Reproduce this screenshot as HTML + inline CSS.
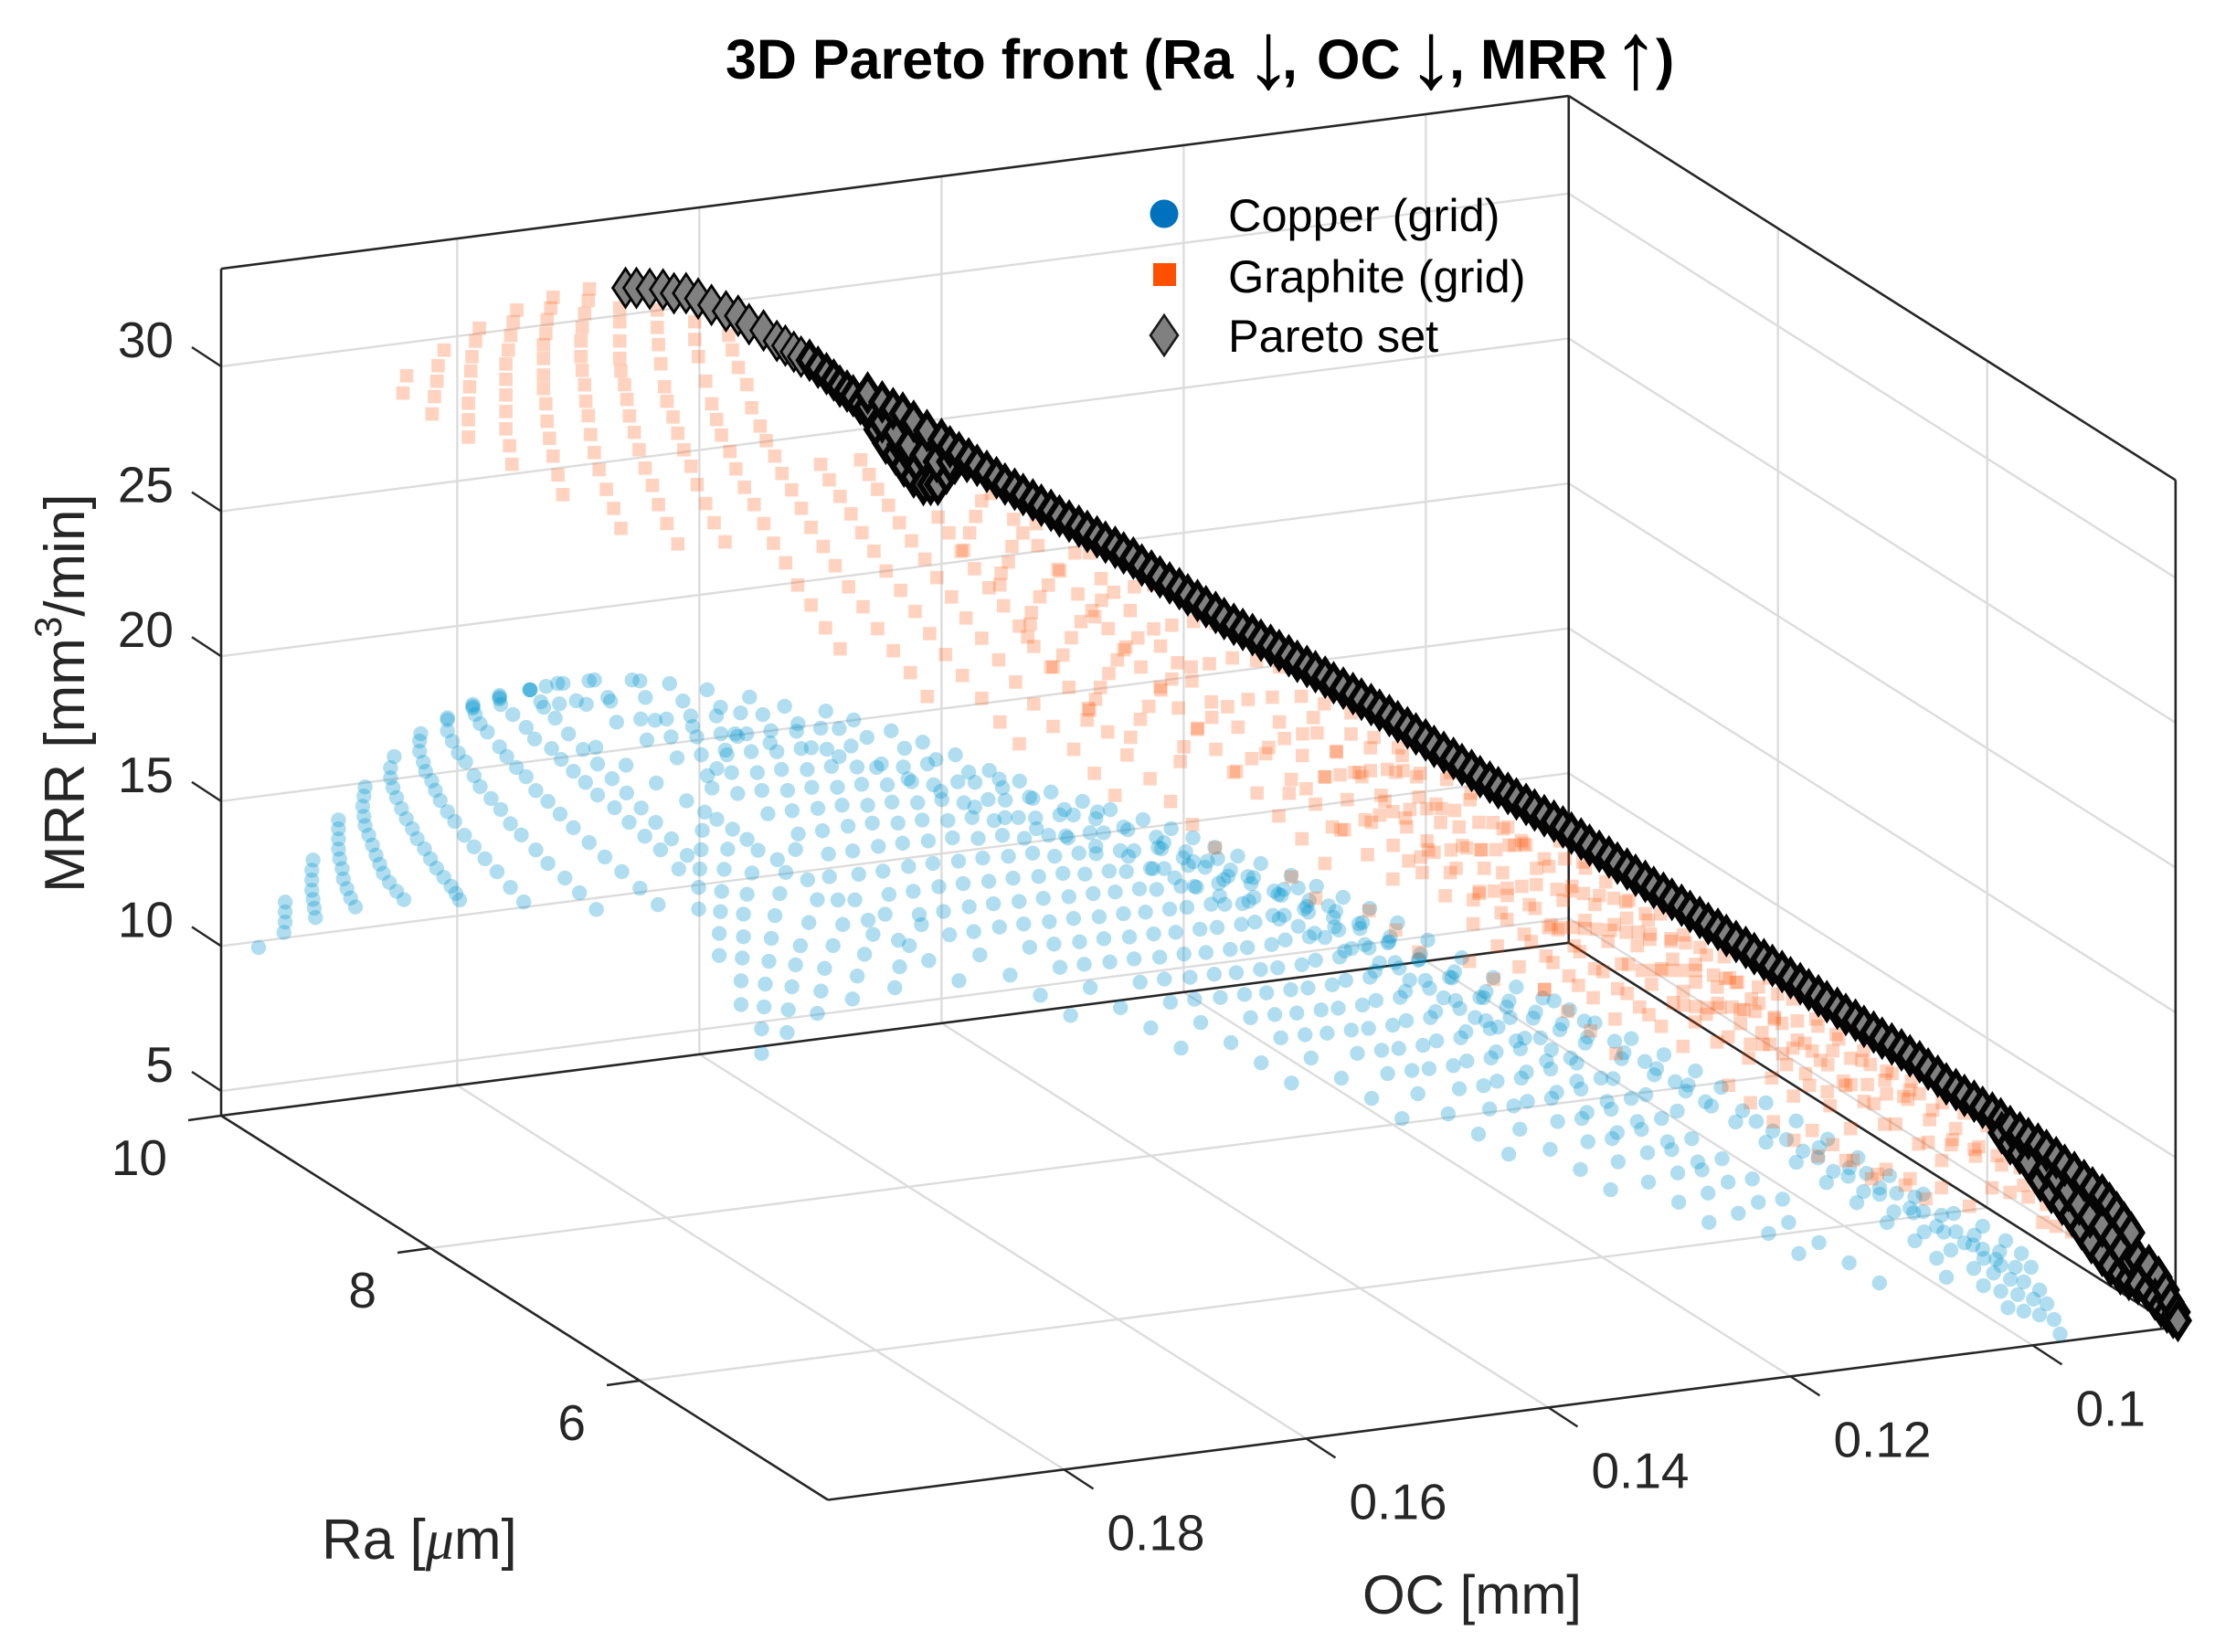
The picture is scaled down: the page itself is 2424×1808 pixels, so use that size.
<!DOCTYPE html>
<html lang="en">
<head>
<meta charset="utf-8">
<title>3D Pareto front</title>
<style>
html,body{margin:0;padding:0;background:#fff}
svg{display:block}
text{font-family:"Liberation Sans",sans-serif}
</style>
</head>
<body>
<!-- Point values are visual estimates read from one 2D projection. Depth (Ra) cannot be read from a single view, so Ra is estimated per group of points. -->
<svg id="chart" xmlns="http://www.w3.org/2000/svg" width="2424" height="1808" viewBox="0 0 2424 1808">
<rect width="2424" height="1808" fill="#fff"/>
<g id="grid"></g>
<g id="axes"></g>
<g id="copper"></g>
<g id="graphite"></g>
<g id="pareto"></g>
<g id="ticklabels" font-size="55" fill="#262626"></g>
<text x="794" y="86" font-size="61" font-weight="700" fill="#000">3D Pareto front (Ra <tspan x="1388" dy="10" font-size="104" font-weight="400" text-anchor="middle">↓</tspan><tspan x="1403" dy="-10">,</tspan> <tspan x="1441">OC</tspan> <tspan x="1566" dy="10" font-size="104" font-weight="400" text-anchor="middle">↓</tspan><tspan x="1586" dy="-10">,</tspan> <tspan x="1620">MRR</tspan> <tspan x="1790" dy="10" font-size="104" font-weight="400" text-anchor="middle">↑</tspan><tspan x="1812" dy="-10">)</tspan></text>
<text x="1491" y="1766" font-size="60" fill="#262626">OC [mm]</text>
<text x="352" y="1706" font-size="62" fill="#262626">Ra [<tspan font-family="'Liberation Serif',serif" font-style="italic">μ</tspan>m]</text>
<text transform="translate(92 977) rotate(-90)" font-size="62" fill="#262626">MRR [mm<tspan font-size="42" dy="-25">3</tspan><tspan dy="25">/min]</tspan></text>
<g>
<circle cx="1274" cy="234" r="15.5" fill="#0072BD"/>
<rect x="1262" y="288" width="25" height="25" fill="#FF5000"/>
<polygon points="1274,345 1289,367 1274,389 1259,367" fill="#808080" stroke="#1a1a1a" stroke-width="2.6"/>
<text x="1344" y="253" font-size="50.5" fill="#000">Copper (grid)</text>
<text x="1344" y="320" font-size="50.5" fill="#000">Graphite (grid)</text>
<text x="1344" y="385" font-size="50.5" fill="#000">Pareto set</text>
</g>
</svg>
<script>
const ocTicks=[0.1,0.12,0.14,0.16,0.18];
const ocTickLabels=["0.1","0.12","0.14","0.16","0.18"];
const raTicks=[10,8,6];
const raTickLabels=["10","8","6"];
const mrrTicks=[5,10,15,20,25,30];
const mrrTickLabels=["5","10","15","20","25","30"];

const copperRa=[9.7,9.7,9.7,9.7,9.7,9.7,9.7,9.7,9.7,9.7,9.7,9.7,
9,8.5,8,7.5,7,6.5,6,5.5,5,4.6,4.4,4.3,4.25,4.25,4.25,4.25,6,9,9,6,
8.5,8,7.5,7,6.5,6,5.5,5,4.6,
9,9,9,9,9,9,9,9,
6,6,4.25,9];
const copperOC=[
[.1990],
[.1968,.1968,.1968,.1969],
[.1945,.1946,.1946,.1946,.1945,.1944,.1943],
[.1924,.1924,.1924,.1924,.1923,.1921,.192,.1917,.1914,.191],
[.1902,.1903,.1904,.1903,.1902,.1899,.1896,.1893,.189,.1887,.1882,.1876,.187],
[.1878,.1881,.1881,.1879,.1876,.1872,.1868,.1863,.1859,.1853,.1848,.1843,.1837,.1831,.1827,.1824],
[.1856,.1857,.1857,.1854,.1852,.1847,.1844,.184,.1834,.1828,.182,.1812,.1803,.1793,.1782,.1771],
[.1834,.1834,.183,.1825,.1819,.1812,.1807,.1798,.179,.1782,.1773,.1761,.1751,.1737,.1725,.1711],
[.1813,.1811,.1807,.1801,.1791,.1785,.1777,.1769,.1761,.1751,.1741,.173,.1717,.1704,.169,.1675,.166],
[.1791,.179,.178,.1769,.1762,.1748,.174,.173,.172,.171,.1696,.1684,.1671,.1658,.1643],
[.1766,.1757,.1745,.1734,.1722,.171,.1698,.1686,.1674,.1662,.1649,.1636],
[.1834,.1813,.1813,.1791,.1791,.1766,.1743,.1717,.1675],
[.1472,.1497,.1522,.1547,.1572,.1597,.1622,.1647,.1672,.1697,.1722,.1747,.1772],
[.1423,.1448,.1473,.1498,.1523,.1548,.1573,.1598,.1623,.1648,.1673,.1698,.1723,.1748,.1773,.1798,.1823],
[.1375,.14,.1425,.145,.1475,.15,.1525,.155,.1575,.16,.1625,.165,.1675,.17,.1725,.175,.1775,.18],
[.1327,.1352,.1377,.1402,.1427,.1452,.1477,.1502,.1527,.1552,.1577,.1602,.1627,.1652,.1677,.1702,.1727,.1752,.1777,.1802],
[.1279,.1304,.1329,.1354,.1379,.1404,.1429,.1454,.1479,.1504,.1529,.1554,.1579,.1604,.1629,.1654,.1679,.1704,.1729,.1754,.1779],
[.1234,.1259,.1284,.1309,.1334,.1359,.1384,.1409,.1434,.1459,.1484,.1509,.1534,.1559,.1584,.1609,.1634,.1659,.1684,.1709,.1734],
[.1193,.1218,.1243,.1268,.1293,.1318,.1343,.1368,.1393,.1418,.1443,.1468,.1493,.1518,.1543,.1568,.1593,.1618,.1643,.1668,.1693,.1718],
[.1155,.118,.1205,.123,.1255,.128,.1305,.133,.1355,.138,.1405,.143,.1455,.148,.1505,.153,.1555,.158,.1605,.163,.1655,.168],
[.1124,.1149,.1174,.1199,.1224,.1249,.1274,.1299,.1324,.1349,.1374,.1399,.1424,.1449,.1474,.1499,.1524,.1549,.1574,.1599,.1624],
[.1092,.1117,.1142,.1167,.1192,.1217,.1242,.1267,.1292,.1317,.1342,.1367,.1392,.1417,.1442,.1467,.1492,.1517,.1542,.1567,.1592],
[.1054,.1062,.108,.1103,.1128,.1153,.1178,.1203,.1228,.1253,.1278,.1303,.1328,.1353,.1378],
[.1032,.104,.1059,.1081,.1106,.1131,.1156,.1181,.1206,.1231],
[.1016,.1022,.1028,.1036,.1052,.1075,.1097,.1122,.1147,.1172],
[.1003,.1008,.1014,.1022,.1037,.1059,.1086,.1108,.1133],
[.099,.0995,.1003,.101,.1023,.1044,.1071,.1093],
[.0973,.0978,.0984,.099,.0997,.1005,.1018,.1037,.1061,.1086,.1114,.114,.1165,.1191,.1216,.1253],
[.1123,.1149,.1176,.1206,.1227,.1249,.1271,.129,.1316,.1344,.1369,.1392,.1414,.1436,.1457,.1482,.1501,.152,.1538,.1556],
[.1826,.1813,.1799,.1773,.1742,.1711,.168,.1645,.1616,.1582,.1559,.1528,.1502,.1475,.1447,.1422,.1396,.137,.1347,.132],
[.1815,.1802,.1788,.1762,.1731,.17,.1669,.1634,.1605,.1571,.1548,.1517,.1491,.1464,.1436,.1411,.1385,.1359,.1336,.1309],
[.1131,.1157,.1184,.1214,.1235,.1257,.1279,.1298,.1324,.1352,.1377,.14,.1422,.1444,.1465,.149,.1509,.1528,.1546,.1564],
[.1503,.1528,.1553,.1578,.1603,.1628,.1653,.1678,.1703,.1728,.1753,.1778,.1803],
[.1455,.148,.1505,.153,.1555,.158,.1605,.163,.1655,.168,.1705,.173,.1755,.178],
[.1407,.1432,.1457,.1482,.1507,.1532,.1557,.1582,.1607,.1632,.1657,.1682,.1707,.1732,.1757,.1782],
[.1359,.1384,.1409,.1434,.1459,.1484,.1509,.1534,.1559,.1584,.1609,.1634,.1659,.1684,.1709,.1734,.1759],
[.1314,.1339,.1364,.1389,.1414,.1439,.1464,.1489,.1514,.1539,.1564,.1589,.1614,.1639,.1664,.1689,.1714],
[.1273,.1298,.1323,.1348,.1373,.1398,.1423,.1448,.1473,.1498,.1523,.1548,.1573,.1598,.1623,.1648,.1673,.1698],
[.1235,.126,.1285,.131,.1335,.136,.1385,.141,.1435,.146,.1485,.151,.1535,.156,.1585,.161,.1635,.166],
[.1204,.1229,.1254,.1279,.1304,.1329,.1354,.1379,.1404,.1429,.1454,.1479,.1504,.1529,.1554,.1579,.1604],
[.1172,.1197,.1222,.1247,.1272,.1297,.1322,.1347,.1372,.1397,.1422,.1447,.1472,.1497,.1522,.1547,.1572],
[.1635,.1635,.1633,.1632,.1629,.1627,.1624,.162,.1615,.1607],
[.1652,.1652,.1651,.165,.165,.1647,.1643,.1638],
[.167,.167,.1669,.1668,.1666,.1663,.1659],
[.1687,.1687,.1686,.1685,.1684,.1682,.1676,.1672,.1665,.1655],
[.1614,.1613,.161,.1607,.1603,.1596,.1589,.1579],
[.1589,.1586,.1583,.1576,.1568,.1558],
[.156,.1556,.155,.1543,.1533],
[.1525,.1521,.1513,.1503],
[.1129,.1155,.1182,.1212,.1233,.1255,.1277,.1296,.1322,.135,.1375,.1398,.142,.1442,.1463,.1488,.1507,.1526,.1544,.1562],
[.1138,.1164,.1191,.1221,.1242,.1264,.1286,.1305,.1331,.1359,.1384,.1407,.1429,.1451,.1472,.1497,.1516,.1535,.1553,.1571],
[.1026,.1045,.1069,.1094,.1122,.1148,.1173,.1199,.1224,.1261],
[.1723,.1692,.1657,.1628,.1594,.1571,.154,.1514,.1487,.1459,.1434,.1408,.1382,.1359,.1332]
];
const copperMRR=[
[10.61],
[12.06,11.72,11.37,11.02],
[13.39,13.04,12.7,12.35,12.03,11.72,11.39],
[14.66,14.35,14,13.65,13.31,12.96,12.6,12.25,11.91,11.58],
[15.68,15.37,15.02,14.67,14.35,14,13.64,13.28,12.95,12.62,12.28,11.94,11.62],
[16.6,16.23,15.88,15.53,15.17,14.77,14.4,14.03,13.66,13.28,12.91,12.56,12.21,11.87,11.6,11.36],
[17.27,17.02,16.67,16.28,15.95,15.59,15.25,14.88,14.46,14.09,13.57,13.13,12.67,12.17,11.57,11.01],
[17.63,17.25,16.87,16.44,16.1,15.58,15.18,14.72,14.3,13.77,13.33,12.75,12.23,11.65,11.08,10.43],
[17.98,17.69,17.35,17.03,16.47,16.1,15.68,15.32,14.8,14.37,13.88,13.35,12.77,12.2,11.62,10.97,10.32],
[18.18,17.92,17.52,17.02,16.58,16.18,15.76,15.3,14.86,14.37,13.86,13.29,12.74,12.2,11.46],
[18.3,17.84,17.21,16.61,16.01,15.44,14.87,14.31,13.73,13.17,12.53,11.89],
[17.7,18.05,17.92,18.24,18.12,18.3,18.4,18.35,18.12],
[8.29,9.12,9.95,10.78,11.61,12.44,13.27,14.1,14.93,15.7,16.45,17.2,17.95],
[7.97,8.8,9.63,10.46,11.29,12.12,12.95,13.78,14.61,15.44,16.27,17.1,17.85,18.6,19.35,20.1,20.85],
[7.73,8.56,9.39,10.22,11.05,11.88,12.71,13.54,14.37,15.2,16.03,16.86,17.61,18.36,19.11,19.86,20.61,21.36],
[7.41,8.24,9.07,9.9,10.73,11.56,12.39,13.22,14.05,14.88,15.71,16.54,17.37,18.12,18.87,19.62,20.37,21.12,21.87,22.62],
[7.07,7.9,8.73,9.56,10.39,11.22,12.05,12.88,13.71,14.54,15.37,16.2,17.03,17.86,18.61,19.36,20.11,20.86,21.61,22.36,23.11],
[6.74,7.57,8.4,9.23,10.06,10.89,11.72,12.55,13.38,14.21,15.04,15.87,16.7,17.53,18.28,19.03,19.78,20.53,21.28,22.03,22.78],
[6.44,7.27,8.1,8.93,9.76,10.59,11.42,12.25,13.08,13.91,14.74,15.57,16.4,17.23,18.06,18.81,19.56,20.31,21.06,21.81,22.56,23.31],
[6.25,7.08,7.91,8.74,9.57,10.4,11.23,12.06,12.89,13.72,14.55,15.38,16.21,17.04,17.87,18.62,19.37,20.12,20.87,21.62,22.37,23.12],
[6.15,6.98,7.81,8.64,9.47,10.3,11.13,11.96,12.79,13.62,14.45,15.28,16.11,16.94,17.77,18.6,19.35,20.1,20.85,21.6,22.35],
[5.88,6.71,7.54,8.37,9.2,10.03,10.86,11.69,12.52,13.35,14.18,15.01,15.84,16.67,17.5,18.33,19.08,19.83,20.58,21.33,22.08],
[6.33,7.03,7.73,8.48,9.3,10.13,10.96,11.79,12.62,13.45,14.28,15.11,15.94,16.77,17.6],
[6.15,6.79,7.52,8.27,9.1,9.93,10.76,11.59,12.42,13.25],
[5.42,6.02,6.68,7.23,7.85,8.54,9.29,10.12,10.95,11.78],
[5.23,5.83,6.39,6.91,7.55,8.27,9.11,9.86,10.68],
[5.03,5.6,6.24,6.78,7.39,8.07,8.9,9.65],
[4.28,4.81,5.38,5.89,6.71,7.23,7.74,8.34,8.91,9.71,10.5,11.26,12.03,12.8,13.56,14.29],
[10.16,10.86,11.56,12.26,12.83,13.35,13.85,14.28,15.1,15.86,16.59,17.21,17.71,18.21,18.7,19.24,19.6,20.01,20.43,20.84],
[20.22,20.27,20.3,20.28,20.11,19.82,19.44,19,18.53,18.18,17.75,17.21,16.68,16.1,15.41,14.91,14.39,13.93,13.52,13.03],
[19.56,19.61,19.64,19.62,19.45,19.16,18.78,18.34,17.87,17.52,17.09,16.55,16.02,15.44,14.75,14.25,13.73,13.27,12.86,12.37],
[9.51,10.21,10.91,11.61,12.18,12.7,13.2,13.63,14.45,15.21,15.94,16.56,17.06,17.56,18.05,18.59,18.95,19.36,19.78,20.19],
[11.29,12.12,12.95,13.78,14.61,15.44,16.27,17.1,17.85,18.6,19.35,20.1,20.85],
[11.05,11.88,12.71,13.54,14.37,15.2,16.03,16.86,17.61,18.36,19.11,19.86,20.61,21.36],
[10.73,11.56,12.39,13.22,14.05,14.88,15.71,16.54,17.37,18.12,18.87,19.62,20.37,21.12,21.87,22.62],
[10.39,11.22,12.05,12.88,13.71,14.54,15.37,16.2,17.03,17.86,18.61,19.36,20.11,20.86,21.61,22.36,23.11],
[10.06,10.89,11.72,12.55,13.38,14.21,15.04,15.87,16.7,17.53,18.28,19.03,19.78,20.53,21.28,22.03,22.78],
[9.76,10.59,11.42,12.25,13.08,13.91,14.74,15.57,16.4,17.23,18.06,18.81,19.56,20.31,21.06,21.81,22.56,23.31],
[9.57,10.4,11.23,12.06,12.89,13.72,14.55,15.38,16.21,17.04,17.87,18.62,19.37,20.12,20.87,21.62,22.37,23.12],
[9.47,10.3,11.13,11.96,12.79,13.62,14.45,15.28,16.11,16.94,17.77,18.6,19.35,20.1,20.85,21.6,22.35],
[9.2,10.03,10.86,11.69,12.52,13.35,14.18,15.01,15.84,16.67,17.5,18.33,19.08,19.83,20.58,21.33,22.08],
[6.65,7.5,8.25,9.03,9.8,10.58,11.35,12.09,12.79,13.54],
[8.43,9.25,10.03,10.76,11.54,12.21,12.92,13.68],
[10.22,10.98,11.73,12.42,13.17,13.85,14.52],
[11.91,12.66,13.29,13.95,14.61,15.23,16.03,16.68,17.28,17.7],
[7.26,8.04,8.82,9.56,10.2,10.96,11.71,12.45],
[7.79,8.54,9.31,10.06,10.74,11.54],
[8.13,8.9,9.62,10.27,10.91],
[8.33,9.03,9.72,10.39],
[9.71,10.41,11.11,11.81,12.38,12.9,13.4,13.83,14.65,15.41,16.14,16.76,17.26,17.76,18.25,18.79,19.15,19.56,19.98,20.39],
[8.86,9.56,10.26,10.96,11.53,12.05,12.55,12.98,13.8,14.56,15.29,15.91,16.41,16.91,17.4,17.94,18.3,18.71,19.13,19.54],
[7.14,7.74,8.31,9.11,9.9,10.66,11.43,12.2,12.96,13.69],
[18.62,18.24,17.8,17.33,16.98,16.55,16.01,15.48,14.9,14.21,13.71,13.19,12.73,12.32,11.83]
];

const graphiteRa=[9.5,9.5,9.5,9.5,9.5,9.5,9.5,9.5,9.5,9.5,9.5,9.5,9.5,
8.5,8,7.5,7,6.5,6,5.5,5,4.6,
9.5,9.5,9.5,9.5,9.5,9.5,9.5,9.5,9.5,8,8,7,6.5,6,5.5,5,4.6,4.4,4.3,4.4,
7.5,7,6.5,6,5.5,5,5];
const graphiteOC=[
[.1885,.1888],
[.1854,.1859,.186,.1862,.1864],
[.1825,.1828,.1831,.1832,.1833,.1834,.1834,.1834],
[.1794,.1797,.1799,.1801,.1803,.1803,.1803,.1803,.1803,.18,.1798],
[.1764,.1766,.1769,.177,.1772,.1772,.1772,.1772,.177,.1769,.1767,.1764,.176,.1756],
[.1734,.1735,.1738,.174,.1741,.1741,.174,.1738,.1737,.1735,.1733,.173,.1726,.172,.1714,.1708],
[.1709,.1709,.1709,.1709,.1708,.1705,.1703,.1701,.1697,.1693,.1688,.1682,.1677,.167,.1661],
[.1678,.1678,.1677,.1675,.1672,.167,.1665,.1661,.1656,.165,.1645,.1638,.1631,.1622],
[.1647,.1647,.1644,.1638,.1633,.1629,.1625,.1618,.1613,.1606,.1598,.159,.1582,.1572,.1562,.1551,.1539,.1527],
[.1619,.1616,.1611,.1604,.16,.1593,.1588,.1581,.1575,.1567,.1559,.1551,.1541,.1531,.152,.1508,.1496,.1483,.1469,.1455],
[.1543,.1536,.1527,.1518,.1509,.1499,.1489,.1477,.1465,.1453,.144,.1426,.141,.1395,.1379],
[.151,.1503,.1496,.1487,.1478,.1468,.1457,.1447,.1435,.1423,.141,.1396,.1382,.1367,.1351,.1334,.1317,.13],
[.1446,.1437,.1427,.1416,.1404,.1392,.1379,.1367,.1353,.1338,.1322,.1306,.129,.1271,.1254,.1236],
[.147,.145,.1432,.1417,.1403,.1392,.1379,.1365,.1349,.1334,.1318,.1303,.1286,.1269,.1251,.1232,.1213],
[.1441,.1417,.1392,.1378,.1366,.135,.1328,.1305,.1284,.1264,.1243,.1221,.12],
[.1337,.1318,.1299,.1281,.1261,.1243,.1219,.12,.1177,.1157,.1139,.1118],
[.1333,.1312,.1293,.1275,.1257,.1239,.122,.1197,.1178,.116,.1141,.1121,.1103],
[.1322,.131,.1294,.1275,.1257,.1239,.1217,.1199,.118,.1163,.1144,.1126,.1108,.109],
[.1278,.1263,.1244,.1225,.1206,.119,.1171,.1151,.1133,.1114,.1096,.1079,.106,.1042],
[.1223,.1204,.1185,.1166,.1148,.1129,.111,.1091,.1072,.1055,.1038],
[.1176,.1157,.1138,.1119,.11,.1081,.1062,.1044,.1025,.1006],
[.1105,.1086,.1067,.1048,.1029,.101,.0991,.0973],
[.1425,.142,.1415,.141,.1402],
[.1395,.1394,.1388,.1385,.1376,.1365],
[.1372,.137,.1369,.1362,.1355,.1347,.1333,.1321],
[.1351,.1343,.1336,.1328,.1319,.1311,.1301,.1284,.1268],
[.1323,.1321,.1316,.1312,.1305,.1298,.1291,.1281,.1268,.1253,.1235,.1217],
[.1287,.1279,.1272,.1262,.1253,.1237,.1222,.1203,.1183,.1164],
[.1246,.1243,.1232,.122,.1207,.119,.117,.1146,.1127,.1105],
[.1202,.1187,.1173,.116,.1145,.1133,.1105,.1086,.1066],
[.1156,.1142,.1127,.1114,.1102,.1089,.1075,.1062,.1048,.1026,.1006],
[.125,.124,.1223,.1211,.12,.1186,.1172,.116,.1149,.1129,.1109,.1094],
[.1187,.1177,.1166,.1152,.1139,.1127,.1115,.1104,.1092,.1075,.1058,.1041],
[.1215,.1203,.1192,.118,.1168,.1151,.114,.1129,.1116,.1104,.1094,.1078],
[.1201,.1191,.1181,.1171,.1161,.115,.1137,.1127,.1117,.11,.1088,.1076,.1056],
[.1184,.1167,.1156,.1145,.1134,.1123,.1108,.1098,.1088,.1071,.1055],
[.1176,.1166,.1156,.1146,.1136,.1126,.1117,.1101,.1082,.1065,.105],
[.1164,.1148,.1129,.1113,.1096,.1081,.1065,.1047,.1031],
[.112,.1102,.1086,.1072,.1059,.104,.1022,.1003],
[.1069,.105,.1031,.1012,.0993,.0975],
[.1025,.101,.0995,.098,.0983,.0972,.0959],
[.116,.1137,.1111,.1084,.1058,.1035],
[.1309,.129,.1271,.1253,.1233,.1215,.1191,.1172,.1149,.1129,.1111,.109],
[.1305,.1284,.1265,.1247,.1229,.1211,.1192,.1169,.115,.1132,.1113,.1093,.1075],
[.1294,.1282,.1266,.1247,.1229,.1211,.1189,.1171,.1152,.1135,.1116,.1098,.108,.1062],
[.125,.1235,.1216,.1197,.1178,.1162,.1143,.1123,.1105,.1086,.1068,.1051,.1032,.1014],
[.1195,.1176,.1157,.1138,.112,.1101,.1082,.1063,.1044,.1027,.101],
[.1148,.1129,.111,.1091,.1072,.1053,.1034,.1016,.0997,.0978],
[.1606,.1543,.1523,.1479,.1457,.1438,.1396,.1376,.1334,.1315,.1296,.1275,.1182,.1164,.1145,.1128,.1113,.1096,.1079,.1064,.1052,.1036,.1019]
];
const graphiteMRR=[
[30.23,29.65],
[30.95,30.44,29.91,29.39,28.8],
[31.55,31.12,30.6,30.11,29.57,29.01,28.44,27.84],
[32.01,31.62,31.16,30.67,30.2,29.67,29.13,28.56,27.96,27.36,26.71],
[32.29,31.93,31.54,31.07,30.69,30.22,29.65,29.18,28.65,28.04,27.44,26.81,26.14,25.44],
[32.42,32.02,31.59,31.12,30.66,30.12,29.64,29.13,28.56,28.05,27.39,26.75,26.14,25.43,24.74,24.02],
[31.63,31.15,30.49,29.89,29.44,28.96,28.44,27.86,27.27,26.65,25.99,25.36,24.67,23.98,23.23],
[31.39,30.79,30.19,29.52,28.71,28.2,27.63,27.05,26.45,25.85,25.19,24.5,23.8,23.09],
[30.82,30.21,29.6,28.72,27.91,27.35,26.79,26.19,25.56,24.89,24.25,23.55,22.83,22.1,21.28,20.53,19.68,18.89],
[30.2,29.68,29.05,28.42,27.6,26.93,26.4,25.83,25.2,24.59,23.91,23.21,22.5,21.78,20.99,20.24,19.42,18.59,17.76,16.86],
[25.34,24.77,24.15,23.5,22.8,22.11,21.37,20.64,19.85,19.02,18.23,17.43,16.56,15.66,14.82],
[25.32,24.78,24.23,23.63,22.98,22.3,21.61,20.92,20.19,19.4,18.63,17.81,16.97,16.13,15.27,14.39,13.47,12.62],
[23,22.41,21.72,21.06,20.34,19.65,18.88,18.12,17.33,16.55,15.74,14.84,13.96,13.04,12.16,11.27],
[25.34,24.33,23.35,22.48,21.62,21.15,20.35,19.68,18.9,18.1,17.32,16.51,15.66,14.82,13.93,13.04,12.09],
[24.28,23.05,21.69,21.04,20.35,19.54,18.55,17.51,16.51,15.55,14.55,13.58,12.62],
[19.92,18.66,17.82,16.94,16.05,15.16,14.09,13.19,12.1,11.23,10.41,9.51],
[20,19.04,18.09,17.11,16.22,15.34,14.3,13.73,12.89,12.04,11.25,10.39,9.56],
[20.96,20.17,19.14,18.25,17.37,16.48,15.26,14.47,13.64,12.76,11.97,11.24,10.48,9.69],
[19.41,18.7,17.87,17.08,16.35,15.57,14.74,13.84,12.96,12.07,11.19,10.37,9.58,8.86],
[17.11,16.28,15.49,14.6,13.77,12.97,12.15,11.35,10.53,9.74,8.86],
[15.79,14.96,14.17,13.38,12.54,11.75,10.99,10.19,9.4,8.73],
[13.97,13.16,12.4,11.61,10.87,10.14,9.41,8.61],
[21.75,22.32,22.86,23.37,23.58],
[20.39,20.79,21.14,21.66,22.08,22.34],
[18.47,18.9,19.3,19.8,20.17,20.67,21.16,21.1],
[17.32,17.69,18.25,18.76,19.1,19.41,19.63,19.73,19.71],
[15.34,15.67,16.02,16.41,16.85,17.28,17.69,17.95,18.19,18.24,18.27,18.11],
[14.55,15.13,15.54,16.05,16.38,16.71,16.74,16.84,16.64,16.32],
[13.5,13.99,14.53,14.88,15.18,15.34,15.31,15.21,14.85,14.42],
[12.89,13.28,13.59,13.83,13.91,13.88,13.69,13.47,13.01],
[11.92,12,12.33,12.33,12.35,12.34,12.31,12.2,12.03,11.7,11.12],
[14.69,14.54,14.79,14.89,14.95,14.95,14.9,14.84,14.72,14.2,13.87,13.38],
[13.18,13.26,13.36,13.37,13.37,13.24,13.18,13.28,13.27,12.65,12.56,12.15],
[14.49,14.51,14.55,14.55,14.55,14.29,14.18,14.03,13.89,13.73,13.55,13.06],
[14.38,14.33,14.28,14.19,14.11,14.02,13.88,13.83,13.71,13.46,13.25,13.03,12.6],
[14.18,13.87,13.81,13.75,13.69,13.63,13.39,13.22,13.03,12.78,12.45],
[13.86,13.75,13.66,13.61,13.58,13.43,13.32,13.04,12.81,12.54,12.17],
[13.59,13.5,13.27,13.08,13,12.66,12.36,11.95,11.6],
[12.84,12.78,12.37,12.21,12.23,11.82,11.37,10.83],
[11.07,10.88,10.62,10.3,9.78,9.3],
[9.49,9.25,9.01,8.68,8.07,7.88,7.62],
[11.08,10.8,10.19,9.89,9.44,8.68],
[19.92,18.66,17.82,16.94,16.05,15.16,14.09,13.19,12.1,11.23,10.41,9.51],
[20,19.04,18.09,17.11,16.22,15.34,14.3,13.73,12.89,12.04,11.25,10.39,9.56],
[20.96,20.17,19.14,18.25,17.37,16.48,15.26,14.47,13.64,12.76,11.97,11.24,10.48,9.69],
[19.41,18.7,17.87,17.08,16.35,15.57,14.74,13.84,12.96,12.07,11.19,10.37,9.58,8.86],
[17.11,16.28,15.49,14.6,13.77,12.97,12.15,11.35,10.53,9.74,8.86],
[15.79,14.96,14.17,13.38,12.54,11.75,10.99,10.19,9.4,8.73],
[22.73,21.39,20.55,19.88,19.1,18.24,17.69,16.96,16.39,15.53,14.76,13.86,12.27,11.57,10.81,10.08,10.34,9.76,9.13,8.41,8.67,8.04,7.48]
];

const paretoRa=[10,10,10,10,9,8,7,5.5,4.6,4.6,4.6,4.2];
const paretoOC=[
[.1661,.1652,.1641,.163,.1621,.1611,.1601,.159,.1578,.1568,.1559,.1547,.1536,.1529,.1522,.1516,.1509,.1502,.1495,.1489,.1484,.1478,.1473,.1467,.1461,.1455,.1449,.1444,.144],
[.1453,.1446,.1438,.1434,.1431,.1427,.1423,.1419,.1415,.1409,.1403,.1396,.1389,.1379],
[.1461,.1449,.1438,.1427,.1415,.1404,.1393],
[.1461,.1449,.144,.1432,.1423,.1412,.14,.1393],
[.1472,.1464,.1457,.1449,.1441,.1434,.1426,.1419,.1411,.1404,.1396,.1389,.1381,.1373,.1366,.1358,.1351,.1343,.1336,.1328,.1321,.1313,.1306,.1298,.129,.1283,.1275,.1268,.126,.1253,.1245],
[.1324,.1316,.1309,.1301,.1294,.1286,.1279,.1271,.1264,.1256,.1249,.1241,.1233,.1226,.1218,.1211,.1203,.1196,.1188,.1181,.1173,.1166,.1158,.115,.1143,.1135,.1128,.112,.1113,.1105,.1098,.109,.1083,.1075,.1067],
[.1146,.1139,.1131,.1124,.1116,.1108,.1101,.1093,.1086,.1078,.1071,.1063,.1056,.1048,.1041,.1033,.1026,.1018,.1011,.1003,.0995,.0988,.098,.0973,.0965,.0958,.095,.0943,.0935,.0928],
[.1049,.1042,.1034,.1027,.1019,.1012,.1004,.0996,.0989,.0981,.0974,.0966,.0959,.0951,.0944,.0936,.0929,.0921,.0914],
[.0991,.0984,.0976,.0969,.0959,.095,.0941,.0933,.0925,.0917,.0908,.0901,.0893,.0886],
[.0954,.0945,.0936,.0927,.0918,.0908,.0899,.0892,.0884],
[.0984,.0976,.0969,.0961,.0954,.0946,.0939,.0931,.0923,.0916,.0908,.0902,.0896,.089,.0884],
[.0913,.0909,.0913,.0905,.0904,.0896,.0899,.0894,.089,.0889,.0886,.0884,.0881,.088]
];
const paretoMRR=[
[30.92,30.87,30.78,30.7,30.52,30.47,30.23,29.95,29.67,29.46,29.12,28.84,28.42,28.22,27.97,27.77,27.61,27.33,27.07,26.82,26.58,26.38,26.19,25.88,25.6,25.41,25.19,24.94,24.6],
[24.92,24.41,23.99,24.29,23.54,23.93,23.12,23.48,22.82,22.79,22.76,23.1,23.41,23.42],
[25.75,25.16,24.75,24.24,23.84,23.55,23.49],
[26.22,25.85,25.57,25.37,25.04,24.66,24.29,24],
[26.51,26.25,25.99,25.74,25.48,25.22,25,24.78,24.55,24.33,24.11,23.88,23.66,23.44,23.22,22.99,22.77,22.55,22.32,22.1,21.82,21.57,21.33,21.08,20.84,20.59,20.35,20.1,19.86,19.61,19.37],
[21.9,21.68,21.45,21.23,21.01,20.79,20.56,20.34,20.12,19.89,19.66,19.43,19.2,18.97,18.74,18.51,18.28,18.03,17.78,17.53,17.28,17.02,16.77,16.52,16.27,16.02,15.77,15.54,15.31,15.07,14.84,14.61,14.38,14.14,13.91],
[16.42,16.17,15.92,15.67,15.42,15.18,14.93,14.68,14.43,14.18,13.93,13.69,13.44,13.19,12.94,12.69,12.44,12.2,11.95,11.7,11.45,11.2,10.95,10.71,10.46,10.21,9.96,9.71,9.46,9.22],
[13.07,12.82,12.58,12.33,12.09,11.84,11.6,11.35,11.11,10.86,10.57,10.28,9.98,9.74,9.5,9.26,9.01,8.77,8.53],
[10.52,10.1,9.74,9.39,8.7,8.24,7.79,7.37,6.85,6.33,5.84,5.46,5.13,4.9],
[9.11,8.69,8.23,7.71,7.22,6.85,6.39,5.94,5.52],
[10.7,10.44,10.2,9.97,9.71,9.42,9.12,8.83,8.51,8.22,7.93,7.61,7.26,6.88,6.5],
[6.66,6.2,5.81,5.55,6.39,5.94,5.2,4.92,5.47,4.7,5.03,4.49,4.66,4.36]
];

const OC_MAX=0.1995, OC_MIN=0.0882, RA_MAX=10, RA_MIN=4.2, MRR_MIN=4.15, MRR_MAX=33.37;
const SVGNS="http://www.w3.org/2000/svg";
function sx(oc,ra){return 242+(OC_MAX-oc)*13250+(RA_MAX-ra)*114.5;}
function sy(oc,ra,mrr){return 1221-(OC_MAX-oc)*1700+(RA_MAX-ra)*72.5-(mrr-MRR_MIN)*31.72;}
function make(tag,attrs,parent){
  const el=document.createElementNS(SVGNS,tag);
  for(const k in attrs){el.setAttribute(k,attrs[k]);}
  parent.appendChild(el);
  return el;
}
const gGrid=document.getElementById('grid');
const gAxes=document.getElementById('axes');
const gLabels=document.getElementById('ticklabels');
function seg(parent,a,b,stroke,width,name){
  const el=make('line',{x1:sx(a[0],a[1]),y1:sy(a[0],a[1],a[2]),x2:sx(b[0],b[1]),y2:sy(b[0],b[1],b[2]),stroke:stroke,'stroke-width':width},parent);
  
  
  return el;
}
const GRID='#dcdcdc';
ocTicks.forEach(function(v){
  seg(gGrid,[v,RA_MAX,MRR_MIN],[v,RA_MAX,MRR_MAX],GRID,2.4,'grid-oc-wall');
  seg(gGrid,[v,RA_MAX,MRR_MIN],[v,RA_MIN,MRR_MIN],GRID,2.4,'grid-oc-floor');
});
raTicks.forEach(function(v){
  if(v===RA_MAX){return;}
  seg(gGrid,[OC_MIN,v,MRR_MIN],[OC_MIN,v,MRR_MAX],GRID,2.4,'grid-ra-wall');
  seg(gGrid,[OC_MAX,v,MRR_MIN],[OC_MIN,v,MRR_MIN],GRID,2.4,'grid-ra-floor');
});
mrrTicks.forEach(function(v){
  seg(gGrid,[OC_MAX,RA_MAX,v],[OC_MIN,RA_MAX,v],GRID,2.4,'grid-mrr-back-wall');
  seg(gGrid,[OC_MIN,RA_MAX,v],[OC_MIN,RA_MIN,v],GRID,2.4,'grid-mrr-side-wall');
});
const AX='#262626';
const boxEdges=[
 [[OC_MAX,RA_MAX,MRR_MIN],[OC_MAX,RA_MAX,MRR_MAX]],
 [[OC_MAX,RA_MAX,MRR_MAX],[OC_MIN,RA_MAX,MRR_MAX]],
 [[OC_MIN,RA_MAX,MRR_MIN],[OC_MIN,RA_MAX,MRR_MAX]],
 [[OC_MIN,RA_MAX,MRR_MAX],[OC_MIN,RA_MIN,MRR_MAX]],
 [[OC_MIN,RA_MIN,MRR_MIN],[OC_MIN,RA_MIN,MRR_MAX]],
 [[OC_MAX,RA_MAX,MRR_MIN],[OC_MIN,RA_MAX,MRR_MIN]],
 [[OC_MIN,RA_MAX,MRR_MIN],[OC_MIN,RA_MIN,MRR_MIN]],
 [[OC_MAX,RA_MAX,MRR_MIN],[OC_MAX,RA_MIN,MRR_MIN]],
 [[OC_MAX,RA_MIN,MRR_MIN],[OC_MIN,RA_MIN,MRR_MIN]]
];
boxEdges.forEach(function(e){seg(gAxes,e[0],e[1],AX,2.6,'box-edge');});
function tick(px,py,dx,dy,name){
  const el=make('line',{x1:px,y1:py,x2:px+dx,y2:py+dy,stroke:AX,'stroke-width':2.4},gAxes);
  
  
}
function label(x,y,anchor,txt,name){
  const el=make('text',{x:x,y:y,'text-anchor':anchor},gLabels);
  el.textContent=txt;
  
  
}
ocTicks.forEach(function(v,i){
  const px=sx(v,RA_MIN),py=sy(v,RA_MIN,MRR_MIN);
  tick(px,py,32,21,'oc-tick');
  label(px+47,py+88,'start',ocTickLabels[i],'oc-tick-label');
});
raTicks.forEach(function(v,i){
  const px=sx(OC_MAX,v),py=sy(OC_MAX,v,MRR_MIN);
  tick(px,py,-36,5,'ra-tick');
  label(px-59,py+65,'end',raTickLabels[i],'ra-tick-label');
});
mrrTicks.forEach(function(v,i){
  const px=sx(OC_MAX,RA_MAX),py=sy(OC_MAX,RA_MAX,v);
  tick(px,py,-32,-21,'mrr-tick');
  label(190,py-10,'end',mrrTickLabels[i],'mrr-tick-label');
});

const gCopper=document.getElementById('copper');
copperRa.forEach(function(ra,g){
  copperOC[g].forEach(function(oc,i){
    const el=make('circle',{cx:sx(oc,ra),cy:sy(oc,ra,copperMRR[g][i]),r:8.2,fill:'#0095d0','fill-opacity':0.31},gCopper);
    
    
  });
});
const gGraphite=document.getElementById('graphite');
graphiteRa.forEach(function(ra,g){
  graphiteOC[g].forEach(function(oc,i){
    const x=sx(oc,ra),y=sy(oc,ra,graphiteMRR[g][i]);
    const el=make('rect',{x:x-7.3,y:y-7.3,width:14.6,height:14.6,fill:'#ff5000','fill-opacity':0.25},gGraphite);
    
    
  });
});
const gPareto=document.getElementById('pareto');
paretoRa.forEach(function(ra,g){
  paretoOC[g].forEach(function(oc,i){
    const x=sx(oc,ra),y=sy(oc,ra,paretoMRR[g][i]);
    const heavy=x>880;
    const hw=heavy?12:14;
    const hh=heavy?18.5:21;
    const pts=[x,y-hh,x+hw,y,x,y+hh,x-hw,y].join(' ');
    const el=make('polygon',{points:pts,fill:'#808080',stroke:'#050505','stroke-width':heavy?6:2.8},gPareto);
    
    
  });
});
</script>
</body>
</html>
